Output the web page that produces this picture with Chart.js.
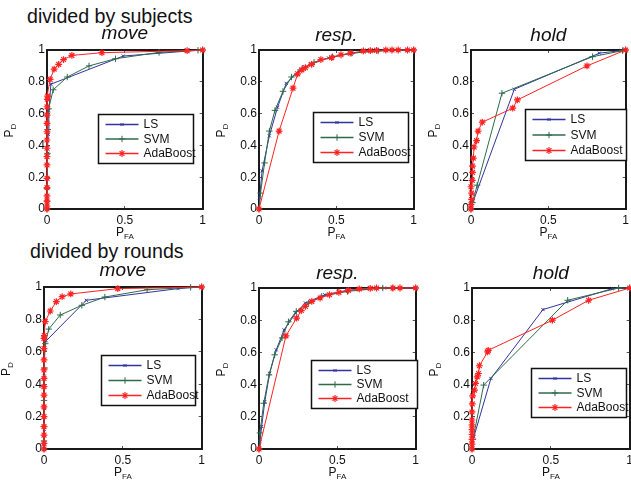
<!DOCTYPE html>
<html>
<head>
<meta charset="utf-8">
<script src="https://cdn.jsdelivr.net/npm/chart.js@4.4.1/dist/chart.umd.min.js"></script>
<style>
  html, body { margin: 0; padding: 0; background: #fff; }
  body { width: 631px; height: 483px; position: relative; overflow: hidden;
         font-family: "Liberation Sans", Arial, sans-serif; }
  .group { position: absolute; font-size: 19.6px; line-height: 20px; color: #111; white-space: nowrap; }
  canvas { position: absolute; }
</style>
</head>
<body>
<div class="group" id="group0" style="left:27px; top:6px;"></div>
<div class="group" id="group1" style="left:30px; top:241px;"></div>
<script>
"use strict"
const FONT = '"Liberation Sans", Arial, sans-serif';

const groups = ['divided by subjects', 'divided by rounds'];
const tasks = ['move', 'resp.', 'hold'];
const methods = ['LS', 'SVM', 'AdaBoost'];
const xTicks = [0, 0.5, 1];
const yTicks = [0, 0.2, 0.4, 0.6, 0.8, 1];

// ROC points as [P_FA, P_D]
// divided by subjects
const subjMoveLS = [[0,0],[0,0.03],[0,0.06],[0.003,0.13],[0.005,0.35],[0.008,0.47],[0.012,0.62],[0.025,0.785],[0.49,0.962],[0.9,0.993],[1,1]];
const subjMoveSVM = [[0,0],[0,0.05],[0,0.13],[0.003,0.35],[0.005,0.5],[0.01,0.63],[0.04,0.75],[0.13,0.83],[0.27,0.9],[0.44,0.945],[0.72,0.985],[0.97,0.998],[1,1]];
const subjMoveAda = [[0,0],[0,0.019],[0,0.05],[0,0.082],[0,0.134],[0,0.193],[0,0.277],[0,0.329],[0,0.382],[0,0.434],[0,0.486],[0,0.539],[0,0.591],[0,0.643],[0.002,0.69],[0.004,0.71],[0.02,0.815],[0.046,0.88],[0.075,0.91],[0.106,0.94],[0.16,0.966],[0.353,0.983],[0.9,0.996],[1,1]];

const subjRespLS = [[0,0],[0.004,0.07],[0.02,0.24],[0.067,0.46],[0.12,0.64],[0.176,0.79],[0.26,0.87],[0.33,0.91],[0.45,0.95],[0.6,0.98],[0.75,0.995],[1,1]];
const subjRespSVM = [[0,0],[0.01,0.1],[0.036,0.29],[0.067,0.49],[0.103,0.62],[0.155,0.74],[0.21,0.83],[0.28,0.885],[0.356,0.923],[0.476,0.958],[0.6,0.98],[0.77,0.994],[1,1]];
const subjRespAda = [[0,0],[0.13,0.49],[0.22,0.76],[0.25,0.85],[0.277,0.875],[0.3,0.889],[0.34,0.91],[0.4,0.94],[0.47,0.952],[0.53,0.97],[0.59,0.98],[0.675,0.994],[0.72,0.996],[0.76,0.998],[0.82,1],[0.86,1],[0.9,1],[0.96,1],[1,1]];

const subjHoldLS = [[0,0],[0.015,0.05],[0.28,0.753],[0.83,0.98],[0.97,0.996],[1,1]];
const subjHoldSVM = [[0,0],[0.01,0.04],[0.04,0.15],[0.2,0.728],[0.786,0.958],[0.98,0.996],[1,1]];
const subjHoldAda = [[0,0],[0,0.027],[0.004,0.06],[0.004,0.1],[0,0.14],[0.008,0.18],[0.01,0.23],[0.01,0.27],[0.015,0.32],[0.02,0.39],[0.036,0.43],[0.046,0.49],[0.073,0.546],[0.27,0.634],[0.3,0.686],[0.75,0.9],[1,1]];

// divided by rounds
const roundMoveLS = [[0,0],[0,0.03],[0.002,0.12],[0.002,0.25],[0.002,0.45],[0.002,0.62],[0.014,0.668],[0.268,0.918],[0.85,0.99],[1,1]];
const roundMoveSVM = [[0,0],[0,0.05],[0,0.14],[0,0.3],[0.004,0.5],[0.008,0.65],[0.03,0.74],[0.103,0.827],[0.24,0.887],[0.386,0.938],[0.654,0.983],[0.93,0.998],[1,1]];
const roundMoveAda = [[0,0],[0,0.035],[0,0.086],[0,0.138],[0,0.2],[0,0.26],[0,0.333],[0,0.385],[0,0.436],[0,0.488],[0,0.55],[0,0.62],[0,0.683],[0.002,0.7],[0.008,0.786],[0.04,0.852],[0.078,0.91],[0.115,0.94],[0.17,0.957],[0.468,0.99],[1,1]];

const roundRespLS = [[0,0],[0.006,0.046],[0.017,0.14],[0.037,0.295],[0.068,0.47],[0.11,0.616],[0.16,0.74],[0.234,0.844],[0.296,0.907],[0.42,0.958],[0.56,0.985],[0.8,1],[0.9,1],[1,1]];
const roundRespSVM = [[0,0],[0.006,0.1],[0.03,0.284],[0.064,0.46],[0.1,0.585],[0.147,0.69],[0.188,0.79],[0.238,0.855],[0.317,0.907],[0.4,0.948],[0.565,0.979],[0.79,1],[0.85,1],[1,1]];
const roundRespAda = [[0,0],[0.172,0.703],[0.24,0.813],[0.27,0.86],[0.296,0.886],[0.337,0.917],[0.39,0.938],[0.45,0.958],[0.51,0.973],[0.57,0.985],[0.64,0.994],[0.71,0.998],[0.75,1],[0.855,1],[0.9,1],[1,1]];

const roundHoldLS = [[0,0],[0.012,0.076],[0.12,0.438],[0.45,0.866],[0.89,0.996],[1,1]];
const roundHoldSVM = [[0,0],[0.006,0.06],[0.074,0.397],[0.607,0.924],[0.93,1],[1,1]];
const roundHoldAda = [[0,0],[0,0.03],[0,0.06],[0,0.09],[0,0.12],[0,0.15],[0,0.18],[0,0.23],[0.002,0.28],[0.004,0.33],[0.016,0.366],[0.023,0.407],[0.033,0.448],[0.041,0.469],[0.047,0.517],[0.099,0.603],[0.103,0.613],[0.51,0.8],[0.74,0.924],[1,1]];

const curves = [
    [subjMoveLS, subjMoveSVM, subjMoveAda],
    [subjRespLS, subjRespSVM, subjRespAda],
    [subjHoldLS, subjHoldSVM, subjHoldAda],
    [roundMoveLS, roundMoveSVM, roundMoveAda],
    [roundRespLS, roundRespSVM, roundRespAda],
    [roundHoldLS, roundHoldSVM, roundHoldAda]
];

// line / marker look for each method
const methodStyle = [
    { color: '#33339e', pointStyle: 'crossRot', radius: 2.2, pointWidth: 1 },
    { color: '#2e6b4b', pointStyle: 'cross', radius: 3.2, pointWidth: 1 },
    { color: '#ff2222', pointStyle: 'star', radius: 3.4, pointWidth: 1.2 }
];

// axes box of each panel: left, top, width, height (px on the page)
// legend: x, y as share of the plot area, w, h in px
const panels = [
    { box: [47, 50, 160, 159], titleTop: 4, legend: [0.33, 0.40, 95, 49] },
    { box: [259, 50, 159, 159], titleTop: 6, legend: [0.35, 0.39, 95, 50] },
    { box: [471, 50, 159, 159], titleTop: 6, legend: [0.35, 0.37, 101, 51] },
    { box: [44, 287, 162, 162], titleTop: 4, legend: [0.364, 0.42, 94, 50] },
    { box: [259, 288, 161, 161], titleTop: 6, legend: [0.335, 0.447, 106, 48] },
    { box: [472, 288, 162, 161], titleTop: 6, legend: [0.377, 0.497, 95, 49] }
];

const Y_AXIS_W = 46, RIGHT_W = 6, TITLE_H = 30, X_AXIS_H = 34, TITLE_SIZE = 19;

document.getElementById('group0').textContent = groups[0];
document.getElementById('group1').textContent = groups[1];

// legend drawn inside the plot area, MATLAB style
const insetLegend = {
    id: 'insetLegend',
    afterDatasetsDraw(chart, args, opts) {
        const ctx = chart.ctx, a = chart.chartArea;
        const x = Math.round(a.left + opts.x * a.width) + 0.5;
        const y = Math.round(a.top + opts.y * a.height) + 0.5;
        ctx.save();
        ctx.fillStyle = '#fff';
        ctx.fillRect(x, y, opts.w, opts.h);
        ctx.strokeStyle = '#111';
        ctx.lineWidth = 1.5;
        ctx.strokeRect(x, y, opts.w, opts.h);
        const step = (opts.h - 20) / 2;
        chart.data.datasets.forEach((ds, i) => {
            const ry = y + 10 + i * step;
            ctx.strokeStyle = ds.borderColor;
            ctx.fillStyle = ds.borderColor;
            ctx.lineWidth = 1.5;
            ctx.beginPath();
            ctx.moveTo(x + 7, ry);
            ctx.lineTo(x + 40, ry);
            ctx.stroke();
            ctx.lineWidth = ds.pointBorderWidth;
            Chart.helpers.drawPoint(ctx, {
                pointStyle: ds.pointStyle, radius: ds.pointRadius,
                borderWidth: ds.pointBorderWidth, rotation: 0
            }, x + 23.5, ry);
            ctx.fillStyle = '#111';
            ctx.font = '12px ' + FONT;
            ctx.textAlign = 'left';
            ctx.textBaseline = 'middle';
            ctx.fillText(ds.label, x + 45, ry + 0.5);
        });
        ctx.restore();
    }
};

// P with subscript, used for both axis names
function drawSubscripted(ctx, main, sub, cx, baseline) {
    ctx.font = '12px ' + FONT;
    const wm = ctx.measureText(main).width;
    ctx.font = '8px ' + FONT;
    const ws = ctx.measureText(sub).width;
    const x0 = cx - (wm + ws) / 2;
    ctx.textAlign = 'left';
    ctx.textBaseline = 'alphabetic';
    ctx.font = '12px ' + FONT;
    ctx.fillText(main, x0, baseline);
    ctx.font = '8px ' + FONT;
    ctx.fillText(sub, x0 + wm, baseline + 3);
}

const axisNames = {
    id: 'axisNames',
    afterDraw(chart) {
        const ctx = chart.ctx, a = chart.chartArea;
        ctx.save();
        ctx.fillStyle = '#111';
        drawSubscripted(ctx, 'P', 'FA', (a.left + a.right) / 2, a.bottom + 27);
        ctx.translate(a.left - 34, (a.top + a.bottom) / 2 + 1);
        ctx.rotate(-Math.PI / 2);
        drawSubscripted(ctx, 'P', 'D', 0, 0);
        ctx.restore();
    }
};

function axisOptions(axis, position, tickValues, size, showLabels) {
    const horizontal = axis === 'x';
    return {
        type: 'linear',
        axis: axis,
        position: position,
        min: 0,
        max: 1,
        afterBuildTicks: (s) => { s.ticks = tickValues.map(v => ({ value: v })); },
        afterFit: (s) => { if (horizontal) s.height = size; else s.width = size; },
        ticks: {
            display: showLabels,
            autoSkip: false,
            maxRotation: 0,
            padding: horizontal ? 7 : 5,
            color: '#111',
            font: { family: FONT, size: 12 },
            callback: (v) => String(v)
        },
        grid: { drawOnChartArea: false, drawTicks: true, tickLength: -3, color: '#555', lineWidth: 1 },
        border: { display: true, color: '#1a1a1a', width: 2 }
    };
}

panels.forEach((p, i) => {
    const [bl, bt, bw, bh] = p.box;
    const canvas = document.createElement('canvas');
    canvas.width = Y_AXIS_W + bw + RIGHT_W;
    canvas.height = TITLE_H + bh + X_AXIS_H;
    canvas.style.left = (bl - Y_AXIS_W) + 'px';
    canvas.style.top = (bt - TITLE_H) + 'px';
    document.body.appendChild(canvas);

    const datasets = curves[i].map((pts, k) => {
        const st = methodStyle[k];
        return {
            label: methods[k],
            data: pts.map(([fa, pd]) => ({ x: fa, y: pd })),
            borderColor: st.color,
            backgroundColor: st.color,
            borderWidth: 1,
            pointStyle: st.pointStyle,
            pointRadius: st.radius,
            pointBorderWidth: st.pointWidth,
            pointBorderColor: st.color,
            pointBackgroundColor: st.color,
            tension: 0,
            fill: false,
            clip: false,
            order: 2 - k
        };
    });

    new Chart(canvas, {
        type: 'line',
        data: { datasets: datasets },
        options: {
            responsive: false,
            animation: false,
            events: [],
            layout: { padding: 0 },
            plugins: {
                legend: { display: false },
                tooltip: { enabled: false },
                title: {
                    display: true,
                    text: tasks[i % 3],
                    fullSize: false,
                    color: '#111',
                    font: { family: FONT, size: TITLE_SIZE, style: 'italic', weight: 'normal', lineHeight: 1 },
                    padding: { top: p.titleTop, bottom: TITLE_H - TITLE_SIZE - p.titleTop }
                },
                insetLegend: { x: p.legend[0], y: p.legend[1], w: p.legend[2], h: p.legend[3] }
            },
            scales: {
                x: axisOptions('x', 'bottom', xTicks, X_AXIS_H, true),
                x2: axisOptions('x', 'top', xTicks, 0, false),
                y: axisOptions('y', 'left', yTicks, Y_AXIS_W, true),
                y2: axisOptions('y', 'right', yTicks, RIGHT_W, false)
            }
        },
        plugins: [insetLegend, axisNames]
    });
});
</script>
</body>
</html>
